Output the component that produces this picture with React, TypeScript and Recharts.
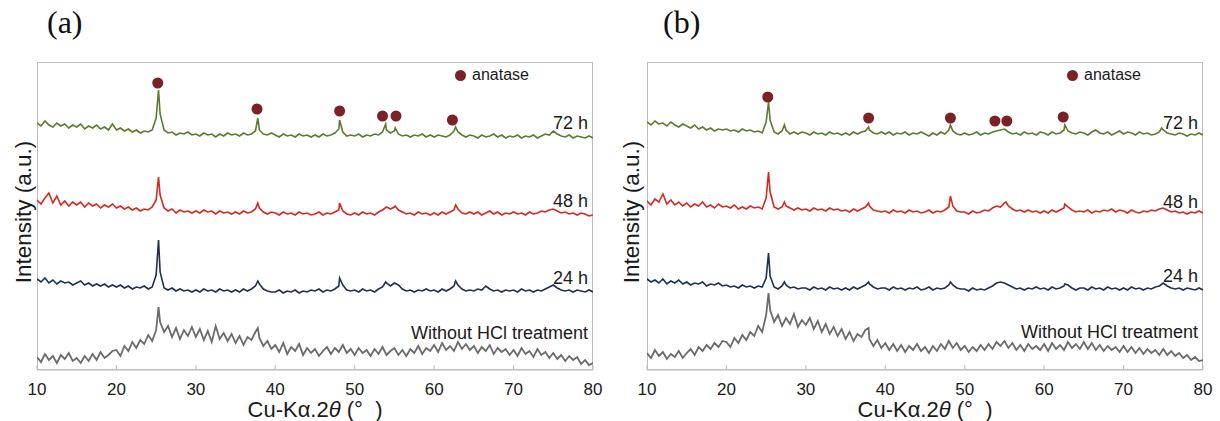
import React from 'react';
import { ComposedChart, Line, Scatter, XAxis, YAxis } from 'recharts';

// 2θ sampling: 10° to 80° every 0.5°, peaks added as extra points
const THETA_START = 10;
const THETA_STEP = 0.5;
const TICKS = [10, 20, 30, 40, 50, 60, 70, 80];

// ---- panel (a) ----
const a72 = [
  247, 244, 249, 245, 243, 247, 244, 246, 242, 245,
  243, 246, 241, 244, 242, 245, 241, 243, 240, 246,
  240, 242, 239, 241, 238, 240, 237, 239, 238, 240,
  252, 256, 240, 237, 238, 235, 237, 236, 238, 235,
  236, 234, 237, 235, 236, 233, 236, 234, 237, 235,
  236, 234, 237, 235, 236, 239, 240, 236, 235, 237,
  235, 233, 236, 234, 235, 233, 236, 234, 235, 233,
  235, 233, 236, 234, 235, 237, 241, 238, 234, 235,
  234, 236, 233, 235, 234, 236, 235, 238, 240, 237,
  239, 236, 234, 235, 233, 235, 234, 236, 233, 235,
  233, 235, 234, 233, 235, 239, 238, 235, 233, 235,
  234, 232, 235, 233, 234, 236, 233, 235, 232, 234,
  233, 235, 232, 234, 233, 235, 232, 234, 236, 235,
  239, 236, 234, 233, 235, 232, 234, 233, 232, 234,
  232,
];
const a72Peaks: [number, number][] = [[25.3, 280], [37.8, 252], [48.1, 250], [53.9, 246], [55.1, 242], [62.7, 243]];

const a48 = [
  170, 166, 172, 177, 167, 174, 165, 169, 164, 168,
  165, 168, 163, 167, 164, 166, 162, 165, 163, 166,
  162, 164, 161, 163, 160, 162, 159, 161, 160, 163,
  170, 175, 162, 159, 161, 157, 160, 158, 159, 157,
  159, 157, 160, 158, 159, 156, 159, 157, 158, 156,
  158, 156, 159, 157, 158, 161, 162, 158, 156, 158,
  157, 155, 158, 156, 157, 155, 158, 156, 157, 155,
  156, 158, 155, 157, 156, 158, 160, 159, 156, 155,
  157, 155, 158, 156, 157, 155, 158, 160, 163, 161,
  163, 160, 158, 156, 157, 155, 158, 156, 157, 155,
  157, 155, 158, 156, 158, 160, 161, 157, 156, 158,
  156, 158, 155, 157, 159, 156, 158, 155, 157, 156,
  158, 156, 157, 155, 158, 156, 157, 159, 158, 160,
  161, 159, 157, 158, 156, 157, 155, 157, 156, 154,
  155,
];
const a48Peaks: [number, number][] = [[25.3, 193], [37.8, 167], [48.1, 167], [55.1, 164], [62.7, 165]];

const a24 = [
  91, 88, 92, 87, 90, 86, 89, 87, 88, 85,
  87, 89, 85, 87, 84, 86, 84, 86, 83, 85,
  83, 85, 82, 84, 81, 83, 82, 84, 81, 83,
  95, 98, 82, 80, 82, 79, 81, 79, 80, 78,
  80, 78, 81, 79, 80, 78, 81, 79, 80, 78,
  80, 78, 81, 79, 81, 84, 86, 81, 79, 78,
  78, 80, 77, 79, 78, 80, 77, 79, 78, 80,
  79, 81, 78, 80, 79, 81, 84, 85, 80, 79,
  80, 78, 81, 79, 80, 78, 81, 83, 87, 84,
  87, 85, 81, 79, 80, 78, 80, 79, 81, 79,
  80, 78, 81, 79, 81, 84, 85, 81, 79, 80,
  79, 81, 80, 84, 81, 79, 80, 78, 80, 79,
  80, 78, 81, 79, 80, 78, 80, 79, 81, 83,
  85, 82, 80, 79, 80, 78, 80, 79, 78, 80,
  78,
];
const a24Peaks: [number, number][] = [[25.3, 130], [37.8, 89], [48.1, 92], [53.9, 88], [62.7, 89]];

const a0 = [
  13, 8, 16, 10, 14, 7, 15, 11, 17, 9,
  12, 7, 14, 9, 16, 10, 18, 12, 15, 19,
  20, 14, 24, 19, 28, 22, 30, 26, 35, 29,
  40, 48, 38, 44, 33, 42, 31, 40, 34, 43,
  33, 41, 30, 39, 28, 44, 31, 37, 29, 36,
  27, 34, 25, 33, 30, 38, 32, 24, 29, 21,
  25, 18, 27, 16, 23, 19, 26, 15, 22, 17,
  21, 14, 19, 23, 16, 22, 18, 25, 17, 21,
  15, 22, 17, 20, 14, 21, 16, 23, 15, 19,
  22, 15, 20, 14, 21, 17, 24, 16, 22, 19,
  25, 18, 27, 20, 24, 19, 28, 21, 26, 20,
  24, 17, 23, 19, 25, 16, 22, 18, 21, 15,
  20, 14, 22, 16, 19, 13, 21, 15, 18, 12,
  17, 11, 15, 9, 14, 10, 13, 6, 10, 5,
  7,
];
const a0Peaks: [number, number][] = [[25.3, 63], [37.8, 42]];

const anataseA: [number, number][] = [[25.2, 287], [37.7, 261], [48.1, 259], [53.5, 254], [55.2, 254], [62.3, 250]];

// ---- panel (b) ----
const b72 = [
  248, 245, 249, 246, 247, 244, 248, 245, 243, 246,
  244, 242, 245, 241, 243, 240, 242, 239, 241, 240,
  241, 239, 240, 238, 241, 239, 240, 238, 239, 237,
  248, 250, 238, 236, 239, 240, 236, 238, 236, 238,
  237, 235, 238, 236, 237, 235, 238, 236, 237, 235,
  237, 235, 238, 236, 238, 239, 240, 237, 236, 238,
  236, 238, 235, 237, 236, 238, 235, 237, 236, 238,
  236, 234, 237, 235, 238, 236, 240, 239, 236, 235,
  237, 235, 236, 238, 235, 237, 236, 238, 239, 240,
  241, 238, 236, 237, 235, 238, 236, 237, 235, 238,
  237, 235, 238, 236, 237, 240, 239, 237, 236, 238,
  237, 235, 238, 240, 237, 236, 238, 235, 237, 239,
  236, 238, 237, 235, 238, 236, 237, 235, 236, 238,
  240, 237, 236, 235, 237, 236, 234, 236, 235, 237,
  235,
];
const b72Peaks: [number, number][] = [[25.3, 268], [27.3, 245], [37.9, 243], [48.2, 245], [62.6, 245], [74.8, 242]];

const b48 = [
  169, 165, 171, 168, 176, 166, 170, 165, 168, 164,
  167, 163, 166, 164, 168, 163, 165, 162, 166, 163,
  164, 162, 165, 161, 163, 161, 164, 162, 163, 161,
  172, 178, 163, 161, 163, 164, 162, 160, 162, 160,
  161, 159, 162, 160, 161, 159, 162, 160, 161, 159,
  160, 158, 161, 159, 161, 163, 164, 160, 159, 158,
  159, 157, 160, 158, 159, 157, 160, 158, 159, 157,
  158, 160, 157, 159, 158, 160, 163, 164, 159, 158,
  158, 156, 159, 157, 158, 160, 159, 162, 164, 163,
  167, 164, 161, 159, 160, 158, 160, 158, 159, 157,
  159, 157, 160, 158, 160, 162, 163, 160, 158, 159,
  158, 160, 157, 159, 158, 160, 159, 161, 158, 160,
  159, 157, 160, 158, 157, 159, 158, 160, 159, 161,
  162, 160, 158, 159, 157, 158, 156, 158, 157, 159,
  157,
];
const b48Peaks: [number, number][] = [[25.3, 198], [27.3, 168], [37.9, 167], [48.2, 174], [55.2, 168], [62.6, 166]];

const b24 = [
  91, 88, 90, 87, 91, 86, 89, 87, 90, 86,
  88, 85, 87, 86, 88, 84, 86, 85, 87, 84,
  85, 83, 84, 82, 85, 83, 84, 82, 84, 83,
  92, 94, 83, 81, 84, 85, 82, 83, 81, 82,
  82, 80, 83, 81, 82, 80, 83, 81, 82, 80,
  82, 80, 83, 81, 83, 85, 86, 83, 81, 82,
  82, 80, 83, 81, 82, 80, 82, 81, 83, 80,
  81, 83, 80, 82, 81, 82, 85, 85, 82, 81,
  81, 79, 82, 80, 81, 80, 82, 84, 87, 88,
  87, 85, 83, 81, 82, 80, 82, 81, 83, 81,
  82, 80, 83, 81, 82, 84, 85, 82, 80, 82,
  82, 80, 83, 81, 82, 80, 83, 81, 82, 80,
  82, 80, 83, 81, 82, 80, 82, 81, 83, 84,
  87, 84, 82, 81, 82, 80, 82, 81, 80, 82,
  80,
];
const b24Peaks: [number, number][] = [[25.3, 117], [27.3, 88], [37.9, 88], [48.2, 88], [62.6, 86]];

const b0 = [
  17, 12, 20, 14, 18, 11, 16, 13, 19, 12,
  17, 21, 15, 23, 19, 25, 21, 27, 23, 29,
  28, 23, 32, 27, 35, 30, 38, 34, 44, 38,
  55, 60, 48, 55, 44, 52, 46, 56, 43, 50,
  45, 52, 41, 49, 38, 46, 36, 43, 34, 41,
  31, 38, 29, 36, 33, 40, 31, 24, 30, 22,
  27, 20, 26, 19, 25, 18, 24, 20, 26, 19,
  23, 17, 24, 19, 26, 21, 29, 22, 27, 20,
  24, 18, 23, 19, 25, 20, 26, 21, 28, 24,
  29, 22, 27, 20, 25, 19, 26, 21, 24, 20,
  26, 19, 27, 21, 25, 20, 28, 22, 26, 21,
  28, 21, 27, 20, 25, 19, 24, 20, 23, 18,
  24, 18, 23, 17, 22, 16, 21, 17, 20, 15,
  21, 15, 19, 14, 17, 12, 15, 10, 13, 9,
  10,
];
const b0Peaks: [number, number][] = [[25.3, 77], [37.9, 42]];

const anataseB: [number, number][] = [[25.2, 273], [37.9, 252], [48.2, 252], [53.8, 249], [55.3, 249], [62.4, 253]];

const COLORS = {
  h72: '#5b7b30',
  h48: '#d42a22',
  h24: '#1f3050',
  raw: '#6b6b6b',
  dot: '#7a2226',
  frame: '#bdbdbd',
};

type Pt = { x: number; y: number };

function build(base: number[], peaks: [number, number][]): Pt[] {
  const pts: Pt[] = base.map((y, i) => ({ x: THETA_START + i * THETA_STEP, y }));
  peaks.forEach(([x, y]) => pts.push({ x, y }));
  return pts.sort((p, q) => p.x - q.x);
}

const toPts = (arr: [number, number][]): Pt[] => arr.map(([x, y]) => ({ x, y }));

const FONT = 'Arial, "Liberation Sans", sans-serif';

// tick mark pointing into the plot, label below
function InTick({ x, y, payload }: any) {
  return (
    <g>
      <line x1={x} x2={x} y1={y - 5} y2={y} stroke={COLORS.frame} />
      <text x={x} y={y + 25} textAnchor="middle" fill="#1a1a1a" fontSize={17} fontFamily={FONT}>
        {payload.value}
      </text>
    </g>
  );
}

interface PanelProps {
  left: number;
  tag: string;
  series: { data: Pt[]; color: string; width: number }[];
  markers: Pt[];
  labels: { text: string; y: number }[];
  legendDotX: number;
  yLabelX: number;
  tagX: number;
}

function Panel({ left, tag, series, markers, labels, legendDotX, yLabelX, tagX }: PanelProps) {
  const plotLeft = 37;
  const plotTop = 62;
  const plotW = 556;
  const plotH = 308;
  return (
    <div style={{ position: 'absolute', left, top: 0, width: 610, height: 421 }}>
      <div
        style={{
          position: 'absolute',
          left: tagX,
          top: 6,
          fontFamily: '"Liberation Serif", "Times New Roman", serif',
          fontSize: 32,
          lineHeight: '32px',
          color: '#111',
        }}
      >
        {tag}
      </div>

      <div
        style={{
          position: 'absolute',
          left: plotLeft,
          top: plotTop,
          width: plotW,
          height: plotH,
          border: `1px solid ${COLORS.frame}`,
          boxSizing: 'border-box',
        }}
      />

      <ComposedChart width={610} height={421} margin={{ top: 62, right: 17, bottom: 21, left: 37 }}>
        <XAxis
          type="number"
          dataKey="x"
          domain={[10, 80]}
          ticks={TICKS}
          allowDataOverflow
          height={30}
          axisLine={{ stroke: COLORS.frame }}
          tickLine={false}
          tickSize={0}
          tickMargin={0}
          tick={<InTick />}
        />
        <YAxis type="number" domain={[0, 308]} hide allowDataOverflow />
        {series.map((s, i) => (
          <Line
            key={i}
            data={s.data}
            dataKey="y"
            type="linear"
            stroke={s.color}
            strokeWidth={s.width}
            dot={false}
            isAnimationActive={false}
          />
        ))}
        <Scatter
          data={markers}
          dataKey="y"
          isAnimationActive={false}
          shape={(p: any) => <circle cx={p.cx} cy={p.cy} r={5.5} fill={COLORS.dot} />}
        />
      </ComposedChart>

      {/* y label */}
      <div
        style={{
          position: 'absolute',
          left: yLabelX - 100,
          top: 212 - 14,
          width: 200,
          height: 28,
          lineHeight: '28px',
          textAlign: 'center',
          transform: 'rotate(-90deg)',
          fontFamily: FONT,
          fontSize: 22.5,
          color: '#1a1a1a',
        }}
      >
        Intensity (a.u.)
      </div>

      {/* x label */}
      <div
        style={{
          position: 'absolute',
          left: plotLeft,
          width: plotW,
          top: 400,
          height: 20,
          textAlign: 'center',
          fontFamily: FONT,
          fontSize: 22,
          color: '#1a1a1a',
          lineHeight: '20px',
        }}
      >
        Cu-Kα.2<i>θ</i> (°&nbsp;&nbsp;)
      </div>

      {/* legend */}
      <div style={{ position: 'absolute', left: legendDotX - 6, top: 66, display: 'flex', alignItems: 'center', fontFamily: FONT, fontSize: 16, color: '#1a1a1a' }}>
        <span style={{ display: 'inline-block', width: 11, height: 11, borderRadius: 6, background: COLORS.dot, marginRight: 6 }} />
        anatase
      </div>

      {/* sample labels */}
      {labels.map((l) => (
        <div
          key={l.text}
          style={{
            position: 'absolute',
            right: 610 - 588,
            top: l.y - 11,
            fontFamily: FONT,
            fontSize: 18,
            lineHeight: '22px',
            color: '#1a1a1a',
            whiteSpace: 'nowrap',
          }}
        >
          {l.text}
        </div>
      ))}
    </div>
  );
}

export default function App() {
  const seriesA = [
    { data: build(a72, a72Peaks), color: COLORS.h72, width: 1.6 },
    { data: build(a48, a48Peaks), color: COLORS.h48, width: 1.6 },
    { data: build(a24, a24Peaks), color: COLORS.h24, width: 1.6 },
    { data: build(a0, a0Peaks), color: COLORS.raw, width: 1.8 },
  ];
  const seriesB = [
    { data: build(b72, b72Peaks), color: COLORS.h72, width: 1.6 },
    { data: build(b48, b48Peaks), color: COLORS.h48, width: 1.6 },
    { data: build(b24, b24Peaks), color: COLORS.h24, width: 1.6 },
    { data: build(b0, b0Peaks), color: COLORS.raw, width: 1.8 },
  ];
  const labelsA = [
    { text: '72 h', y: 123 },
    { text: '48 h', y: 201 },
    { text: '24 h', y: 278 },
    { text: 'Without HCl treatment', y: 333 },
  ];
  const labelsB = [
    { text: '72 h', y: 123 },
    { text: '48 h', y: 202 },
    { text: '24 h', y: 276 },
    { text: 'Without HCl treatment', y: 332 },
  ];
  return (
    <div style={{ position: 'absolute', left: 0, top: 0, width: 1220, height: 421, background: '#fff', overflow: 'hidden' }}>
      <Panel
        left={0}
        tag="(a)"
        series={seriesA}
        markers={toPts(anataseA)}
        labels={labelsA}
        legendDotX={461}
        yLabelX={24}
        tagX={47}
      />
      <Panel
        left={610}
        tag="(b)"
        series={seriesB}
        markers={toPts(anataseB)}
        labels={labelsB}
        legendDotX={463}
        yLabelX={22}
        tagX={53}
      />
    </div>
  );
}
